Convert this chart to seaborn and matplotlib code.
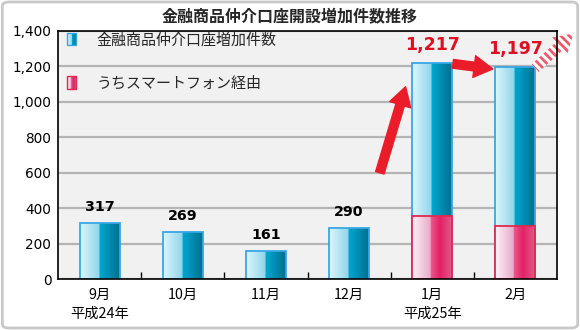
import numpy as np
import pandas as pd
import matplotlib
matplotlib.use("Agg")
import matplotlib.pyplot as plt
import seaborn as sns
from matplotlib.colors import LinearSegmentedColormap
from matplotlib.patches import Rectangle, FancyBboxPatch
from matplotlib.legend_handler import HandlerBase

# ---- data ----
months = ["9月\n平成24年", "10月", "11月", "12月", "1月\n平成25年", "2月"]
total = [317, 269, 161, 290, 1217, 1197]
smartphone = [0, 0, 0, 0, 355, 300]
label_total = "金融商品仲介口座増加件数"
label_phone = "うちスマートフォン経由"
title = "金融商品仲介口座開設増加件数推移"
yticks = [0, 200, 400, 600, 800, 1000, 1200, 1400]

sns.set_theme(style="white")
plt.rcParams["font.family"] = ["Noto Sans CJK JP", "DejaVu Sans"]
plt.rcParams["hatch.linewidth"] = 2.0
NUM_FONT = ["DejaVu Sans"]

df = pd.DataFrame({"month": months, "total": total, "phone": smartphone})

fig = plt.figure(figsize=(5.8, 3.3), dpi=100)
ax = fig.add_axes([58.3 / 580, 1 - 279.3 / 330, 498.5 / 580, 248.5 / 330])
ax.set_facecolor("#f1f1f1")

blue_cmap = LinearSegmentedColormap.from_list(
    "blue", [(0, "#dcf6fc"), (0.49, "#8fd5ea"), (0.49, "#00a8d2"), (1, "#006f8e")])
pink_cmap = LinearSegmentedColormap.from_list(
    "pink", [(0, "#fdf3f8"), (0.47, "#e6aac8"), (0.47, "#ea5a8c"), (0.7, "#e42066"), (1, "#e05a86")])
blue_edge = "#3aa6e6"
pink_edge = "#e2284e"

sns.barplot(data=df, x="month", y="total", color="#00a8d2", width=0.48, ax=ax, zorder=3)
n_tot = len(ax.patches)
sns.barplot(data=df, x="month", y="phone", color="#e42066", width=0.48, ax=ax, zorder=4)
tot_patches = ax.patches[:n_tot]
phone_patches = ax.patches[n_tot:]

grad = np.linspace(0, 1, 256).reshape(1, -1)


def fill_gradient(patch, cmap, edge, z):
    h = patch.get_height()
    if not np.isfinite(h) or h <= 0:
        patch.set_visible(False)
        return
    x0, y0, w = patch.get_x(), patch.get_y(), patch.get_width()
    im = ax.imshow(grad, extent=[x0, x0 + w, y0, y0 + h], aspect="auto", cmap=cmap,
                   zorder=z, interpolation="bilinear")
    im.set_clip_path(patch)
    patch.set_facecolor("none")
    patch.set_edgecolor(edge)
    patch.set_linewidth(1.3)
    patch.set_zorder(z + 0.1)


for p in tot_patches:
    fill_gradient(p, blue_cmap, blue_edge, 3)
for p in phone_patches:
    fill_gradient(p, pink_cmap, pink_edge, 4)

ax.set_xlim(-0.5, len(months) - 0.5)
ax.set_ylim(0, 1400)

# value labels
texts = ax.bar_label(ax.containers[0], labels=[f"{v:,}" for v in total], padding=6.5)
for t, v in zip(texts, total):
    t.set_family(NUM_FONT)
    t.set_fontweight("bold")
    if v > 1000:
        t.set_color("#e01020")
        t.set_fontsize(12.5)
    else:
        t.set_color("black")
        t.set_fontsize(10.3)
    t.set_zorder(6)

# axes styling
ax.set_xlabel("")
ax.set_ylabel("")
ax.set_yticks(yticks)
ax.set_yticklabels([f"{v:,}" for v in yticks], family=NUM_FONT)
ax.yaxis.grid(True, color="#b4b4b4", lw=1.6)
ax.set_axisbelow(True)
ax.set_xticks(np.arange(len(months)))
ax.set_xticklabels(months, linespacing=1.45)
ax.set_xticks(np.arange(len(months) - 1) + 0.5, minor=True)
ax.tick_params(axis="x", which="major", length=0, pad=6, labelsize=10.3, colors="black")
ax.tick_params(axis="x", which="minor", direction="in", length=5, width=1, color="black", bottom=True)
ax.tick_params(axis="y", length=0, pad=5, labelsize=9.8, colors="black")
for s in ax.spines.values():
    s.set_visible(True)
    s.set_color("black")
    s.set_linewidth(1.2)
    s.set_zorder(7)

# arrows
ax.annotate("", xy=(3.68, 1085), xytext=(3.37, 600),
            arrowprops=dict(arrowstyle="simple,head_length=0.9,head_width=1.05,tail_width=0.42",
                            mutation_scale=15, color="#ea1c2a", shrinkA=0, shrinkB=0), zorder=6)
ax.annotate("", xy=(4.73, 1185), xytext=(4.25, 1214),
            arrowprops=dict(arrowstyle="simple,head_length=0.9,head_width=1.05,tail_width=0.42",
                            mutation_scale=15, color="#ea1c2a", shrinkA=0, shrinkB=0), zorder=6)
hatched = ax.annotate("", xy=(5.70, 1385), xytext=(5.24, 1190), annotation_clip=False,
                      arrowprops=dict(arrowstyle="simple,head_length=0.9,head_width=1.1,tail_width=0.5",
                                      mutation_scale=15, facecolor="white", edgecolor="#f05a6a",
                                      hatch="\\\\\\\\", linewidth=0, shrinkA=0, shrinkB=0,
                                      clip_on=False), zorder=6)
hatched.arrow_patch.set_clip_on(False)


# legend with gradient swatches
class GradHandler(HandlerBase):
    def __init__(self, cmap, edge):
        super().__init__()
        self.cmap = cmap
        self.edge = edge

    def create_artists(self, legend, orig_handle, xdescent, ydescent, width, height, fontsize, trans):
        arts = []
        n = 16
        for i in range(n):
            r = Rectangle((-xdescent + width * i / n, -ydescent), width / n + 0.2, height,
                          facecolor=self.cmap((i + 0.5) / n), edgecolor="none", transform=trans)
            arts.append(r)
        arts.append(Rectangle((-xdescent, -ydescent), width, height, facecolor="none",
                              edgecolor=self.edge, lw=1.0, transform=trans))
        return arts


h1 = Rectangle((0, 0), 1, 1)
h2 = Rectangle((0, 0), 1, 1)
leg = ax.legend([h1, h2], [label_total, label_phone], loc="upper left",
                bbox_to_anchor=(0.018, 0.993), frameon=False, fontsize=10.8,
                handlelength=0.6, handleheight=0.95, handletextpad=1.35,
                labelspacing=1.9, borderpad=0, borderaxespad=0,
                handler_map={h1: GradHandler(blue_cmap, blue_edge), h2: GradHandler(pink_cmap, pink_edge)})
leg.set_zorder(8)

fig.text(0.5, 1 - 17 / 330, title, ha="center", va="center", fontsize=11.5, fontweight="bold")

fig.patches.append(FancyBboxPatch((0.004, 0.006), 0.992, 0.988, boxstyle="round,pad=0,rounding_size=0.012",
                                  transform=fig.transFigure, facecolor="none", edgecolor="#c8c8c8", lw=2))

fig.savefig("out.png", dpi=100)
